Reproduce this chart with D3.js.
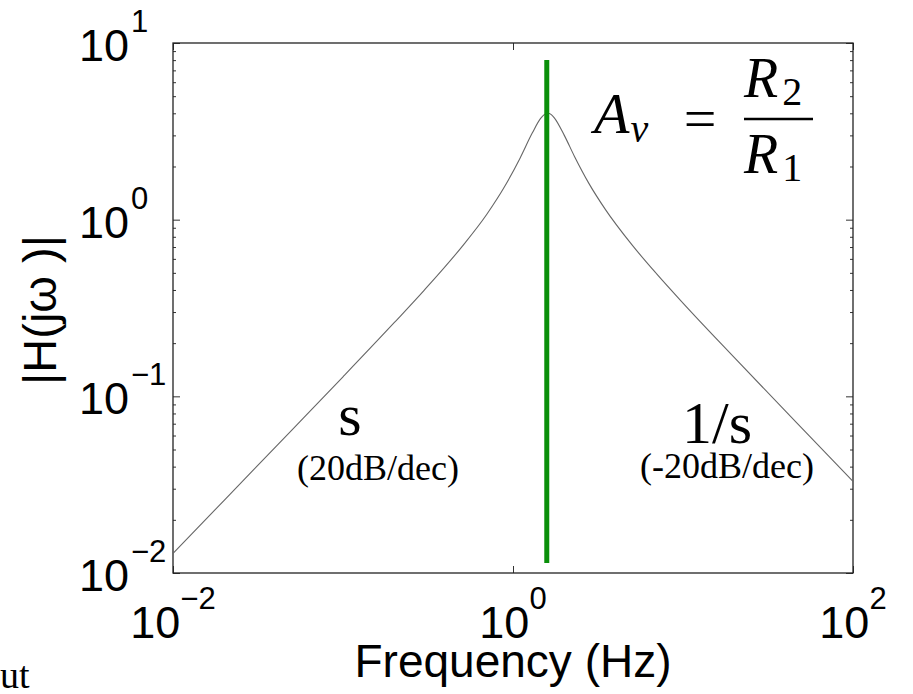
<!DOCTYPE html>
<html>
<head>
<meta charset="utf-8">
<script src="https://cdn.jsdelivr.net/npm/d3@7"></script>
<style>
  html, body { margin: 0; padding: 0; background: #fff; }
  svg { display: block; }
</style>
</head>
<body>
<svg id="chart" width="913" height="694"></svg>
<script>
// values
const freq = [0.01, 0.02, 0.05, 0.1, 0.2, 0.3, 0.5, 0.7, 0.9, 1.1, 1.3, 1.45, 1.52, 1.6, 1.68, 1.75, 2.0, 2.3, 2.8, 3.5, 5, 7, 10, 20, 50, 100];
const mag = [0.0129, 0.0258, 0.0644, 0.129, 0.261, 0.398, 0.702, 1.07, 1.56, 2.23, 3.10, 3.73, 3.92, 4.0, 3.93, 3.77, 3.01, 2.28, 1.60, 1.14, 0.722, 0.493, 0.337, 0.166, 0.066, 0.033];

const xTicks = [0.01, 1, 100];
const xTickExp = ["\u22122", "0", "2"];
const yTicks = [0.01, 0.1, 1, 10];
const yTickExp = ["\u22122", "\u22121", "0", "1"];

const markerFreq = 1.58;
const markerSpan = [0.0114, 8.0];

const xLabel = "Frequency (Hz)";
const yLabel = "|H(j\u03c9 )|";

var svg = d3.select("#chart");

var margin = {top: 43, right: 60, bottom: 121, left: 173},
  width = 913 - margin.left - margin.right,
  height = 694 - margin.top - margin.bottom;

var x = d3.scaleLog().domain([0.01, 100]).range([0, width]);
var y = d3.scaleLog().domain([0.01, 10]).range([height, 0]);

var g = svg.append("g")
  .attr("transform", "translate(" + margin.left + "," + margin.top + ")");

// minor ticks on y: 2..9 in every decade
var yMinor = [];
d3.range(-2, 1).forEach(function(e) {
  d3.range(2, 10).forEach(function(k) { yMinor.push(k * Math.pow(10, e)); });
});

function styleAxis(sel) {
  sel.select(".domain").remove();
  sel.selectAll("line").attr("stroke", "#333").attr("stroke-width", 1);
}

// inward ticks, left and right
g.append("g").call(d3.axisLeft(y).tickValues(yTicks).tickSize(-7).tickFormat("")).call(styleAxis);
g.append("g").call(d3.axisLeft(y).tickValues(yMinor).tickSize(-3).tickFormat("")).call(styleAxis);
g.append("g").attr("transform", "translate(" + width + ",0)")
  .call(d3.axisRight(y).tickValues(yTicks).tickSize(-7).tickFormat("")).call(styleAxis);
g.append("g").attr("transform", "translate(" + width + ",0)")
  .call(d3.axisRight(y).tickValues(yMinor).tickSize(-3).tickFormat("")).call(styleAxis);

// inward ticks, bottom and top
g.append("g").attr("transform", "translate(0," + height + ")")
  .call(d3.axisBottom(x).tickValues(xTicks).tickSize(-7).tickFormat("")).call(styleAxis);
g.append("g")
  .call(d3.axisTop(x).tickValues(xTicks).tickSize(-7).tickFormat("")).call(styleAxis);

// frame
g.append("rect")
  .attr("width", width)
  .attr("height", height)
  .attr("fill", "none")
  .attr("stroke", "#222")
  .attr("stroke-width", 1.3);

// response curve
var pts = freq.map(function(f, i) { return [f, mag[i]]; });
var line = d3.line()
  .x(function(d) { return x(d[0]); })
  .y(function(d) { return y(d[1]); })
  .curve(d3.curveMonotoneX);

g.append("path")
  .datum(pts)
  .attr("d", line)
  .attr("fill", "none")
  .attr("stroke", "#666")
  .attr("stroke-width", 1.1);

// green marker at the peak
g.append("line")
  .attr("x1", x(markerFreq)).attr("x2", x(markerFreq))
  .attr("y1", y(markerSpan[0])).attr("y2", y(markerSpan[1]))
  .attr("stroke", "#0a8f0a")
  .attr("stroke-width", 5);

// tick labels
var sans = "'Liberation Sans', Arial, Helvetica, sans-serif";

var xl = g.append("g").attr("font-family", sans).attr("fill", "#000");
xTicks.forEach(function(t, i) {
  var tx = xl.append("text")
    .attr("x", x(t))
    .attr("y", height + 65)
    .attr("text-anchor", "middle")
    .attr("font-size", 45);
  tx.append("tspan").text("10");
  tx.append("tspan").attr("dy", -29).attr("font-size", 31).text(xTickExp[i]);
});

var yl = g.append("g").attr("font-family", sans).attr("fill", "#000");
yTicks.forEach(function(t, i) {
  yl.append("text")
    .attr("x", -44)
    .attr("y", y(t) + 18)
    .attr("text-anchor", "end")
    .attr("font-size", 45)
    .text("10");
  yl.append("text")
    .attr("x", -42)
    .attr("y", y(t) - 11)
    .attr("text-anchor", "start")
    .attr("font-size", 31)
    .text(yTickExp[i]);
});

// axis titles
svg.append("text")
  .attr("x", margin.left + width / 2)
  .attr("y", 677)
  .attr("text-anchor", "middle")
  .attr("font-family", sans)
  .attr("font-size", 46)
  .text(xLabel);

svg.append("text")
  .attr("transform", "translate(56,310) rotate(-90)")
  .attr("text-anchor", "middle")
  .attr("font-family", sans)
  .attr("font-size", 47)
  .text(yLabel);

// slope annotations
var serif = "'Liberation Serif', 'Times New Roman', Times, serif";

svg.append("text").attr("x", 350).attr("y", 435).attr("text-anchor", "middle")
  .attr("font-family", serif).attr("font-size", 60).text("s");
svg.append("text").attr("x", 378).attr("y", 480).attr("text-anchor", "middle")
  .attr("font-family", serif).attr("font-size", 36).text("(20dB/dec)");
svg.append("text").attr("x", 717).attr("y", 443).attr("text-anchor", "middle")
  .attr("font-family", serif).attr("font-size", 60).text("1/s");
svg.append("text").attr("x", 727).attr("y", 478).attr("text-anchor", "middle")
  .attr("font-family", serif).attr("font-size", 36).text("(-20dB/dec)");

// gain formula  A_v = R2 / R1
var fm = svg.append("g").attr("font-family", serif).attr("fill", "#000");
var av = fm.append("text").attr("x", 594).attr("y", 133).attr("font-size", 58)
  .attr("font-style", "italic");
av.append("tspan").text("A");
av.append("tspan").attr("dy", 9).attr("dx", 1).attr("font-size", 40).text("v");
fm.append("text").attr("x", 700).attr("y", 138).attr("text-anchor", "middle")
  .attr("font-size", 58).text("=");
fm.append("line").attr("x1", 744).attr("x2", 813).attr("y1", 119).attr("y2", 119)
  .attr("stroke", "#000").attr("stroke-width", 2.5);
[["2", 97], ["1", 173]].forEach(function(r) {
  var t = fm.append("text").attr("x", 744).attr("y", r[1]).attr("font-size", 56);
  t.append("tspan").attr("font-style", "italic").text("R");
  t.append("tspan").attr("dy", 8).attr("dx", 4).attr("font-size", 40).text(r[0]);
});

// cropped text from the source slide
svg.append("text").attr("x", 0).attr("y", 688)
  .attr("font-family", serif).attr("font-size", 38).text("ut");
</script>
</body>
</html>
